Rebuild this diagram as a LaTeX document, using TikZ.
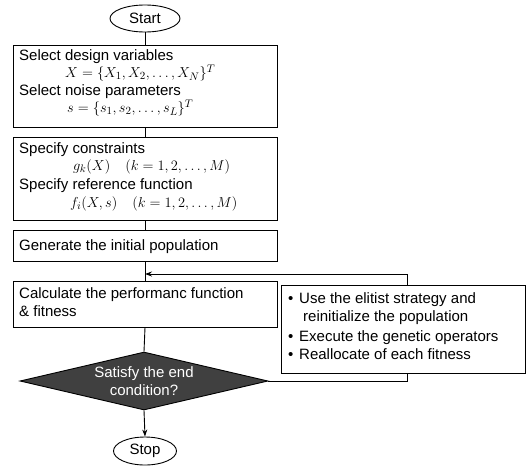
\documentclass[tikz,border=0pt]{standalone}
\usepackage{fontspec}
\setmainfont{Liberation Sans}
\usetikzlibrary{arrows.meta,shapes.geometric}
\begin{document}
\begin{tikzpicture}[x=1pt,y=-1pt,
  box/.style={draw, line width=0.9pt, minimum width=264pt, inner sep=0pt},
  term/.style={draw, ellipse, line width=0.9pt, inner sep=0pt, font=\fontsize{15}{18}\selectfont},
  txt/.style={anchor=base west, inner sep=0pt, font=\fontsize{15}{18}\selectfont},
  conn/.style={line width=0.9pt},
  arr/.style={conn, -{Stealth[length=7pt,width=5pt]}}
]
\useasboundingbox (0,0) rectangle (526,466);

% terminals and boxes
\node[term, minimum width=70pt, minimum height=27pt] (start) at (145,18.5) {Start};
\node[box, minimum height=82pt] (b1) at (145,86) {};
\node[box, minimum height=83pt] (b2) at (145,178.5) {};
\node[box, minimum height=31pt] (b3) at (145,245.5) {};
\node[box, minimum height=46pt] (b4) at (145,304) {};
\node[box, minimum width=244pt, minimum height=88pt] (rb) at (403,329) {};
\node[diamond, draw, line width=0.9pt, fill=black!75, minimum width=248pt, minimum height=58pt, inner sep=0pt] (dia) at (144,381) {};
\node[term, minimum width=63pt, minimum height=28pt] (stop) at (145,451) {Stop};

% box 1 text
\node[txt] (t11) at (19,60) {Select design variables};
\node[txt] (t12) at (65,77.5) {$X=\{X_1, X_2, \ldots, X_N\}^T$};
\node[txt] (t13) at (19,95) {Select noise parameters};
\node[txt] (t14) at (67,112.5) {$s=\{s_1, s_2, \ldots, s_L\}^T$};
% box 2 text
\node[txt] (t21) at (19,153) {Specify constraints};
\node[txt] (t22) at (73,170) {$g_k(X)\quad(k=1,2,\ldots,M)$};
\node[txt] (t23) at (19,189) {Specify reference function};
\node[txt] (t24) at (70,207) {$f_i(X,s)\quad(k=1,2,\ldots,M)$};
% box 3 text
\node[txt] (t31) at (19,250) {Generate the initial population};
% box 4 text
\node[txt] (t41) at (19,298) {Calculate the performanc function};
\node[txt] (t42) at (19,316) {\& fitness};
% right box text
\node[txt] (r1b) at (288,303) {\textbullet};
\node[txt] (r1) at (299,303) {Use the elitist strategy and};
\node[txt] (r2) at (303,321) {reinitialize the population};
\node[txt] (r3b) at (288,341) {\textbullet};
\node[txt] (r3) at (299,341) {Execute the genetic operators};
\node[txt] (r4b) at (288,359) {\textbullet};
\node[txt] (r4) at (299,359) {Reallocate of each fitness};
% diamond text
\node[align=center, text=white, inner sep=0pt, font=\fontsize{15}{18}\selectfont] (dtext) at (144,381) {Satisfy the end\\condition?};

% connectors
\coordinate (join) at (145,274);
\coordinate (lt) at (407,274);
\draw[conn] (start.south) -- (b1.north);
\draw[conn] (b1.south) -- (b2.north);
\draw[conn] (b2.south) -- (b3.north);
\draw[conn] (b3.south) -- (b4.north);
\draw[conn] (b4.south) -- (dia.north);
\draw[arr] (rb.north -| lt) -- (lt) -- (join);
\draw[conn] (dia.east) -- (dia.east -| lt) -- (rb.south -| lt);
\draw[arr] (dia.south) -- (stop.north);
\end{tikzpicture}
\end{document}
